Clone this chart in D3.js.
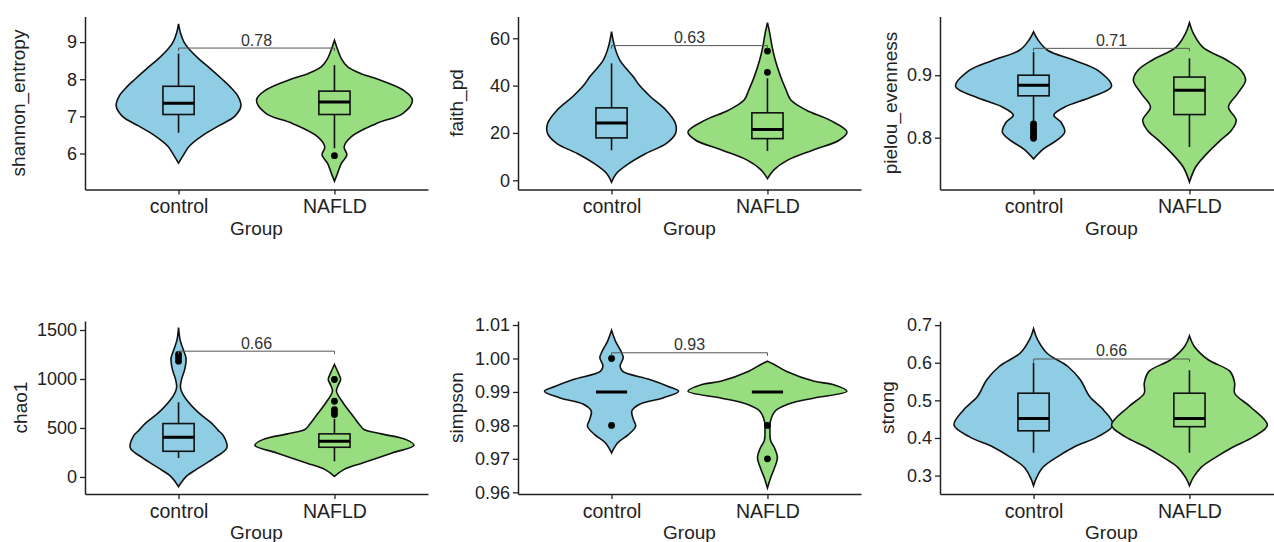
<!DOCTYPE html>
<html>
<head>
<meta charset="utf-8">
<script src="https://cdn.jsdelivr.net/npm/d3@7"></script>
<style>
  body { margin: 0; background: #fff; }
  svg text { font-family: "Liberation Sans", Arial, sans-serif; }
</style>
</head>
<body>
<svg id="chart" width="1274" height="542"></svg>
<script>
// ---- data ----
var metrics = ["shannon_entropy", "faith_pd", "pielou_evenness", "chao1", "simpson", "strong"];
var groups = ["control", "NAFLD"];
var groupColors = ["#8ECDE3", "#98DE80"];
var pLabels = ["0.78", "0.63", "0.71", "0.66", "0.93", "0.66"];
var bracketY = [8.84, 56.9, 0.943, 1284, 1.0017, 0.610];

var yTicks = [
  [6, 7, 8, 9],
  [0, 20, 40, 60],
  [0.8, 0.9],
  [0, 500, 1000, 1500],
  [0.96, 0.97, 0.98, 0.99, 1.00, 1.01],
  [0.3, 0.4, 0.5, 0.6, 0.7]
];
var yTickFormats = ["d", "d", ".1f", "d", ".2f", ".1f"];
var yDomains = [[5.03, 9.69], [-3.9, 69.2], [0.717, 0.994], [-174, 1592], [0.9595, 1.0112], [0.251, 0.711]];

// violin outlines: [value, half width in category units]
var shannonControl = [[5.74,0],[5.95,0.03],[6.2,0.07],[6.5,0.16],[6.75,0.26],[7.0,0.36],[7.28,0.40],[7.55,0.38],[7.8,0.33],[8.0,0.28],[8.3,0.2],[8.55,0.13],[8.8,0.07],[9.0,0.035],[9.25,0.012],[9.49,0]];
var shannonNAFLD = [[5.25,0],[5.47,0.02],[5.74,0.045],[5.96,0.08],[6.18,0.062],[6.45,0.107],[6.81,0.27],[7.08,0.44],[7.44,0.50],[7.71,0.44],[8.0,0.28],[8.15,0.17],[8.33,0.085],[8.55,0.045],[8.78,0.022],[9.05,0]];
var faithControl = [[-0.8,0],[2.8,0.03],[7.0,0.11],[11.3,0.22],[15.5,0.35],[19.7,0.41],[24,0.41],[29.6,0.35],[35.3,0.25],[40,0.18],[43.7,0.14],[50.8,0.053],[56.4,0.02],[62.8,0]];
var faithNAFLD = [[0.7,0],[4.3,0.04],[8.5,0.13],[12.7,0.29],[16.9,0.46],[20.4,0.51],[25.4,0.40],[29.6,0.25],[33.9,0.15],[38.1,0.12],[43.7,0.085],[50.8,0.05],[56.4,0.03],[62.1,0.015],[66.6,0]];
var pielouControl = [[0.766,0],[0.782,0.064],[0.796,0.15],[0.809,0.20],[0.825,0.175],[0.836,0.13],[0.849,0.20],[0.865,0.37],[0.882,0.50],[0.908,0.41],[0.924,0.26],[0.940,0.09],[0.956,0.03],[0.9695,0]];
var pielouNAFLD = [[0.729,0],[0.753,0.04],[0.774,0.11],[0.796,0.20],[0.812,0.27],[0.828,0.30],[0.849,0.25],[0.871,0.31],[0.892,0.36],[0.908,0.33],[0.924,0.24],[0.945,0.085],[0.967,0.025],[0.984,0]];
var chao1Control = [[-99,0],[6,0.05],[92,0.13],[194,0.23],[297,0.31],[415,0.29],[483,0.25],[552,0.21],[654,0.13],[791,0.05],[870,0.02],[923,0.012],[1000,0.02],[1100,0.04],[1210,0.048],[1300,0.03],[1400,0.01],[1525,0]];
var chao1NAFLD = [[6,0],[75,0.06],[143,0.18],[245,0.37],[323,0.51],[381,0.46],[440,0.30],[484,0.19],[535,0.16],[620,0.12],[757,0.055],[875,0.013],[940,0.025],[995,0.04],[1060,0.025],[1148,0]];
var simpsonControl = [[0.9718,0],[0.9748,0.04],[0.9773,0.11],[0.9798,0.155],[0.9818,0.14],[0.9843,0.13],[0.9863,0.18],[0.9882,0.33],[0.9902,0.43],[0.9917,0.36],[0.9937,0.245],[0.9962,0.07],[0.9978,0.055],[1.0002,0.075],[1.0022,0.06],[1.0052,0.025],[1.0084,0]];
var simpsonNAFLD = [[0.9613,0],[0.9643,0.02],[0.9673,0.045],[0.9703,0.064],[0.9733,0.045],[0.9755,0.02],[0.9785,0.016],[0.981,0.018],[0.9843,0.05],[0.9863,0.13],[0.9882,0.3],[0.9902,0.51],[0.9922,0.42],[0.9932,0.30],[0.9962,0.12],[0.9983,0.04],[0.9992,0]];
var strongControl = [[0.273,0],[0.295,0.02],[0.322,0.06],[0.349,0.15],[0.376,0.26],[0.403,0.41],[0.434,0.51],[0.474,0.45],[0.510,0.36],[0.555,0.30],[0.590,0.22],[0.626,0.085],[0.662,0.025],[0.6906,0]];
var strongNAFLD = [[0.273,0],[0.295,0.025],[0.322,0.075],[0.349,0.17],[0.376,0.28],[0.403,0.41],[0.434,0.50],[0.483,0.39],[0.519,0.29],[0.546,0.29],[0.577,0.26],[0.608,0.12],[0.644,0.03],[0.671,0]];

var violins = [
  [shannonControl, shannonNAFLD],
  [faithControl, faithNAFLD],
  [pielouControl, pielouNAFLD],
  [chao1Control, chao1NAFLD],
  [simpsonControl, simpsonNAFLD],
  [strongControl, strongNAFLD]
];

// boxplot: [lower whisker, q1, median, q3, upper whisker]
var boxStats = [
  [[6.56, 7.05, 7.35, 7.81, 8.69], [6.14, 7.05, 7.39, 7.68, 8.38]],
  [[12.7, 17.9, 24.2, 30.6, 49.4], [12.4, 17.6, 21.4, 28.5, 43.1]],
  [[0.825, 0.867, 0.884, 0.900, 0.937], [0.785, 0.837, 0.876, 0.897, 0.927]],
  [[194, 262, 405, 545, 763], [160, 303, 364, 440, 593]],
  [[0.99, 0.99, 0.99, 0.99, 0.99], [0.99, 0.99, 0.99, 0.99, 0.99]],
  [[0.361, 0.419, 0.452, 0.519, 0.600], [0.361, 0.430, 0.452, 0.519, 0.580]]
];
var outliers = [
  [[], [5.94]],
  [[], [54.6, 45.6]],
  [[0.822, 0.818, 0.814, 0.81, 0.806, 0.802, 0.799], []],
  [[1250, 1217, 1182], [995, 773, 688, 665, 637]],
  [[1.00, 0.98], [0.98, 0.97]],
  [[], []]
];

// ---- layout ----
var colLeft = [85, 518, 940],
    rowTop = [16.5, 321],
    panelW = 343,
    panelH = 173,
    titleOffset = [60, 55, 43, 58, 55, 46];

var svg = d3.select("#chart");

metrics.forEach(function(name, i) {
  var col = i % 3, row = Math.floor(i / 3);
  var g = svg.append("g").attr("transform", "translate(" + colLeft[col] + "," + rowTop[row] + ")");

  var x = d3.scalePoint().domain(groups).range([0, panelW]).padding(0.6);
  var y = d3.scaleLinear().domain(yDomains[i]).range([panelH, 0]);
  var step = x.step();

  // violins
  groups.forEach(function(grp, k) {
    var cx = x(grp);
    var area = d3.area()
      .curve(d3.curveCatmullRom.alpha(0.5))
      .y(function(d) { return y(d[0]); })
      .x0(function(d) { return cx - d[1] * step; })
      .x1(function(d) { return cx + d[1] * step; });
    g.append("path")
      .datum(violins[i][k])
      .attr("d", area)
      .attr("fill", groupColors[k])
      .attr("stroke", "#111")
      .attr("stroke-width", 1.6);
  });

  // boxplots
  groups.forEach(function(grp, k) {
    var cx = x(grp), s = boxStats[i][k], bw = 0.1 * step;
    g.append("line").attr("x1", cx).attr("x2", cx)
      .attr("y1", y(s[3])).attr("y2", y(s[4]))
      .attr("stroke", "#111").attr("stroke-width", 1.6);
    g.append("line").attr("x1", cx).attr("x2", cx)
      .attr("y1", y(s[1])).attr("y2", y(s[0]))
      .attr("stroke", "#111").attr("stroke-width", 1.6);
    g.append("rect")
      .attr("x", cx - bw).attr("width", 2 * bw)
      .attr("y", y(s[3])).attr("height", y(s[1]) - y(s[3]))
      .attr("fill", groupColors[k])
      .attr("stroke", "#111").attr("stroke-width", 1.6);
    g.append("line").attr("x1", cx - bw).attr("x2", cx + bw)
      .attr("y1", y(s[2])).attr("y2", y(s[2]))
      .attr("stroke", "#000").attr("stroke-width", 3);
    g.selectAll(null)
      .data(outliers[i][k])
      .enter().append("circle")
      .attr("cx", cx).attr("cy", function(d) { return y(d); })
      .attr("r", 3.4).attr("fill", "#000");
  });

  // p-value bracket
  var by = y(bracketY[i]), xa = x(groups[0]), xb = x(groups[1]);
  g.append("path")
    .attr("d", "M" + xa + "," + (by + 3) + "V" + by + "H" + xb + "V" + (by + 3))
    .attr("fill", "none").attr("stroke", "#555").attr("stroke-width", 1);
  g.append("text")
    .attr("x", (xa + xb) / 2).attr("y", by - 2.5)
    .attr("text-anchor", "middle")
    .attr("font-size", 16).attr("fill", "#333")
    .text(pLabels[i]);

  // axes
  var xAxis = g.append("g")
    .attr("transform", "translate(0," + panelH + ")")
    .call(d3.axisBottom(x).tickSize(5).tickPadding(5).tickSizeOuter(0));
  var yAxis = g.append("g")
    .call(d3.axisLeft(y).tickValues(yTicks[i]).tickFormat(d3.format(yTickFormats[i]))
      .tickSize(5).tickPadding(3).tickSizeOuter(0));
  [xAxis, yAxis].forEach(function(a) {
    a.select(".domain").attr("stroke", "#222").attr("stroke-width", 1.5);
    a.selectAll(".tick line").attr("stroke", "#222").attr("stroke-width", 1.3);
    a.selectAll(".tick text").attr("fill", "#222").attr("font-family", "Liberation Sans, Arial, sans-serif");
  });
  xAxis.selectAll(".tick text").attr("font-size", 19.5);
  yAxis.selectAll(".tick text").attr("font-size", 18);

  g.append("text")
    .attr("x", panelW / 2).attr("y", panelH + 45)
    .attr("text-anchor", "middle").attr("font-size", 19).attr("fill", "#222")
    .text("Group");
  g.append("text")
    .attr("transform", "translate(" + (-titleOffset[i]) + "," + (panelH / 2) + ") rotate(-90)")
    .attr("text-anchor", "middle").attr("font-size", 19).attr("fill", "#222")
    .text(name);
});
</script>
</body>
</html>
